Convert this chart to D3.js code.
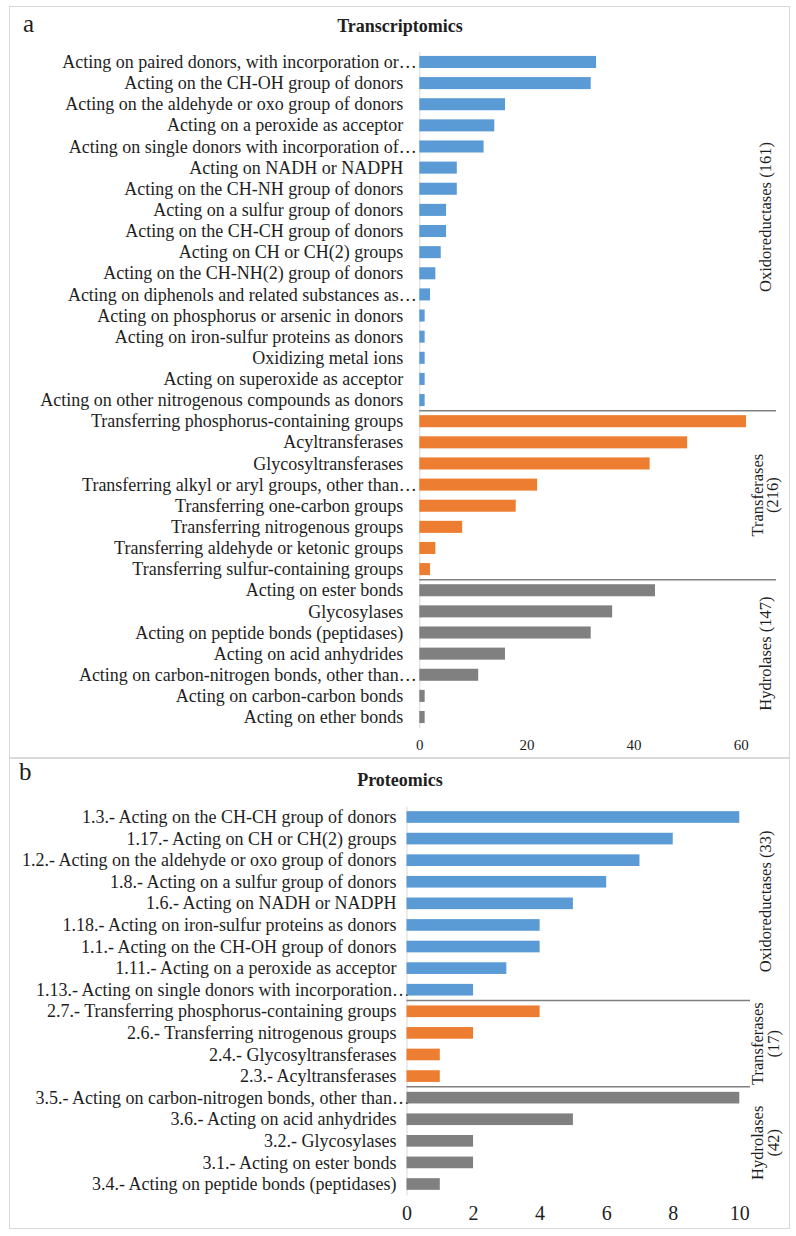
<!DOCTYPE html>
<html><head><meta charset="utf-8">
<script src="https://cdn.jsdelivr.net/npm/d3@7"></script>
<style>
body{margin:0;background:#fff}
svg{display:block}
text{font-family:"Liberation Serif","Times New Roman",serif;fill:#1e1e1e}
</style>
</head><body>
<svg id="chart" width="796" height="1236"></svg>
<script>
// ---------- DATA ----------
const transCategories = [
  "Acting on paired donors, with incorporation or…",
  "Acting on the CH-OH group of donors",
  "Acting on the aldehyde or oxo group of donors",
  "Acting on a peroxide as acceptor",
  "Acting on single donors with incorporation of…",
  "Acting on NADH or NADPH",
  "Acting on the CH-NH group of donors",
  "Acting on a sulfur group of donors",
  "Acting on the CH-CH group of donors",
  "Acting on CH or CH(2) groups",
  "Acting on the CH-NH(2) group of donors",
  "Acting on diphenols and related substances as…",
  "Acting on phosphorus or arsenic in donors",
  "Acting on iron-sulfur proteins as donors",
  "Oxidizing metal ions",
  "Acting on superoxide as acceptor",
  "Acting on other nitrogenous compounds as donors",
  "Transferring phosphorus-containing groups",
  "Acyltransferases",
  "Glycosyltransferases",
  "Transferring alkyl or aryl groups, other than…",
  "Transferring one-carbon groups",
  "Transferring nitrogenous groups",
  "Transferring aldehyde or ketonic groups",
  "Transferring sulfur-containing groups",
  "Acting on ester bonds",
  "Glycosylases",
  "Acting on peptide bonds (peptidases)",
  "Acting on acid anhydrides",
  "Acting on carbon-nitrogen bonds, other than…",
  "Acting on carbon-carbon bonds",
  "Acting on ether bonds"
];
const transValues = [33,32,16,14,12,7,7,5,5,4,3,2,1,1,1,1,1, 61,50,43,22,18,8,3,2, 44,36,32,16,11,1,1];
const transGroupLabels = ["Oxidoreductases (161)", "Transferases\n(216)", "Hydrolases (147)"];
const transGroupSizes = [17, 8, 7];
const transTicks = [0, 20, 40, 60];

const protCategories = [
  "1.3.- Acting on the CH-CH group of donors",
  "1.17.- Acting on CH or CH(2) groups",
  "1.2.- Acting on the aldehyde or oxo group of donors",
  "1.8.- Acting on a sulfur group of donors",
  "1.6.- Acting on NADH or NADPH",
  "1.18.- Acting on iron-sulfur proteins as donors",
  "1.1.- Acting on the CH-OH group of donors",
  "1.11.- Acting on a peroxide as acceptor",
  "1.13.- Acting on single donors with incorporation…",
  "2.7.- Transferring phosphorus-containing groups",
  "2.6.- Transferring nitrogenous groups",
  "2.4.- Glycosyltransferases",
  "2.3.- Acyltransferases",
  "3.5.- Acting on carbon-nitrogen bonds, other than…",
  "3.6.- Acting on acid anhydrides",
  "3.2.- Glycosylases",
  "3.1.- Acting on ester bonds",
  "3.4.- Acting on peptide bonds (peptidases)"
];
const protValues = [10,8,7,6,5,4,4,3,2, 4,2,1,1, 10,5,2,2,1];
const protGroupLabels = ["Oxidoreductases (33)", "Transferases\n(17)", "Hydrolases\n(42)"];
const protGroupSizes = [9, 4, 5];
const protTicks = [0, 2, 4, 6, 8, 10];

const groupColors = ["#5b9bd5", "#ed7d31", "#808080"];

// ---------- LAYOUT ----------
const panels = [
  {
    letter: "a", title: "Transcriptomics",
    categories: transCategories, values: transValues,
    groupLabels: transGroupLabels, groupSizes: transGroupSizes, ticks: transTicks,
    box: [9, 6, 789, 757],
    xDomain: [0, 60], xRange: [419.3, 740.7],
    yRange: [51.4, 727.6], pad: 0.43,
    labelGap: 16, labelFont: 18,
    tickCenterY: 745, tickFont: 15,
    titleY: 32, letterX: 23, letterY: 32,
    sepEnd: 776, groupX: 765, groupLine: 15, groupDy: [-14, 0, 0]
  },
  {
    letter: "b", title: "Proteomics",
    categories: protCategories, values: protValues,
    groupLabels: protGroupLabels, groupSizes: protGroupSizes, ticks: protTicks,
    box: [9, 758, 789, 1228],
    xDomain: [0, 10], xRange: [406.5, 739.3],
    yRange: [806.2, 1194.8], pad: 0.46,
    labelGap: 10, labelFont: 18,
    tickCenterY: 1213, tickFont: 20,
    titleY: 786, letterX: 19, letterY: 780,
    sepEnd: 750, groupX: 765, groupLine: 16, groupDy: [-2, 0, 2]
  }
];

const svg = d3.select("#chart");

panels.forEach(p => {
  const g = svg.append("g");
  g.append("rect")
    .attr("x", p.box[0] + 0.5).attr("y", p.box[1] + 0.5)
    .attr("width", p.box[2] - p.box[0]).attr("height", p.box[3] - p.box[1])
    .attr("fill", "none").attr("stroke", "#d9d9d9").attr("stroke-width", 1);

  g.append("text").attr("x", p.letterX).attr("y", p.letterY)
    .attr("font-size", 25).text(p.letter);
  g.append("text").attr("x", 400).attr("y", p.titleY)
    .attr("text-anchor", "middle").attr("font-size", 18).attr("font-weight", "bold")
    .text(p.title);

  const x = d3.scaleLinear().domain(p.xDomain).range(p.xRange);
  const y = d3.scaleBand().domain(p.categories).range(p.yRange)
    .paddingInner(p.pad).paddingOuter(p.pad / 2);

  const groupOf = [];
  p.groupSizes.forEach((s, gi) => { for (let i = 0; i < s; i++) groupOf.push(gi); });

  // category axis (drawn first so bars sit over overflowing ellipses)
  const yAxis = g.append("g")
    .attr("transform", `translate(${x(0)},0)`)
    .call(d3.axisLeft(y).tickSize(0).tickSizeOuter(0).tickPadding(p.labelGap));
  yAxis.select(".domain").attr("stroke", "#d9d9d9").attr("stroke-width", 1);
  yAxis.selectAll("text")
    .attr("font-size", p.labelFont)
    .attr("font-family", '"Liberation Serif","Times New Roman",serif')
    .attr("fill", "#1e1e1e")
    .attr("dy", "0.34em")
    .attr("dx", d => d.endsWith("…") ? p.labelFont * 0.75 : 0);

  // bars
  g.append("g").selectAll("rect")
    .data(p.categories.map((c, i) => ({c, v: p.values[i], gi: groupOf[i]})))
    .join("rect")
    .attr("x", x(0))
    .attr("y", d => y(d.c))
    .attr("width", d => x(d.v) - x(0))
    .attr("height", y.bandwidth())
    .attr("fill", d => groupColors[d.gi]);

  // value axis
  const xAxisG = g.append("g")
    .attr("transform", `translate(0,${p.tickCenterY - 0.38 * p.tickFont})`)
    .call(d3.axisBottom(x).tickValues(p.ticks).tickSize(0).tickPadding(0).tickFormat(d3.format("d")));
  xAxisG.select(".domain").remove();
  xAxisG.selectAll("text")
    .attr("font-size", p.tickFont)
    .attr("font-family", '"Liberation Serif","Times New Roman",serif')
    .attr("fill", "#1e1e1e");

  // group separators and labels
  let start = 0;
  p.groupSizes.forEach((s, gi) => {
    const firstC = p.categories[start], lastC = p.categories[start + s - 1];
    const top = gi === 0 ? p.yRange[0] : y(firstC) - y.step() * y.paddingInner() / 2;
    const bottom = gi === p.groupSizes.length - 1 ? p.yRange[1] : y(lastC) + y.bandwidth() + y.step() * y.paddingInner() / 2;
    if (gi > 0) {
      g.append("line")
        .attr("x1", x(0)).attr("x2", p.sepEnd)
        .attr("y1", top).attr("y2", top)
        .attr("stroke", "#808080").attr("stroke-width", 1.5);
    }
    const cy = (top + bottom) / 2 + p.groupDy[gi];
    const lines = p.groupLabels[gi].split("\n");
    const t = g.append("text")
      .attr("transform", `translate(${p.groupX},${cy}) rotate(-90)`)
      .attr("text-anchor", "middle")
      .attr("font-size", 16.5);
    lines.forEach((ln, li) => {
      t.append("tspan")
        .attr("x", 0)
        .attr("y", (li - (lines.length - 1) / 2) * p.groupLine)
        .attr("dy", "0.34em")
        .text(ln);
    });
    start += s;
  });
});
</script>
</body></html>
